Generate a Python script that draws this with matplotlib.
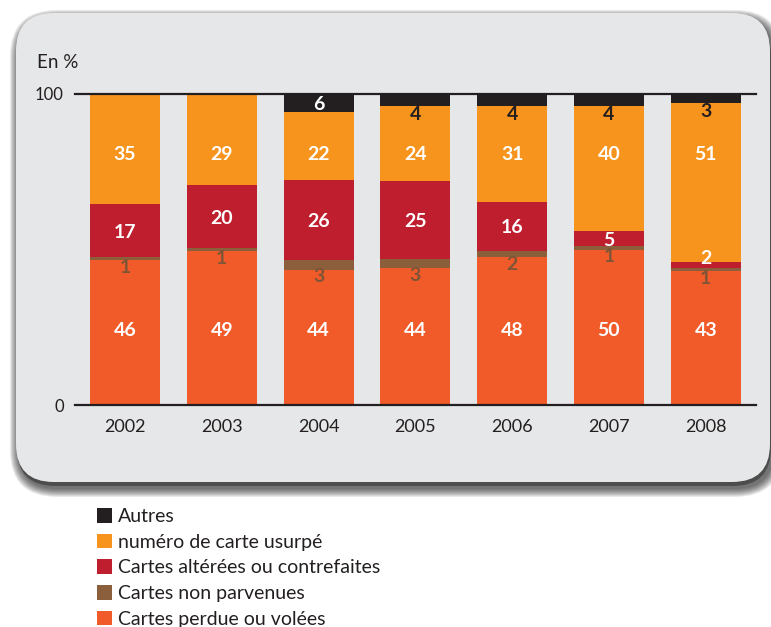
import matplotlib
matplotlib.use("Agg")
import matplotlib.pyplot as plt
from matplotlib.patches import FancyBboxPatch, Patch
import numpy as np

years = ['2002', '2003', '2004', '2005', '2006', '2007', '2008']
perdue = [46, 49, 44, 44, 48, 50, 43]
non_parvenues = [1, 1, 3, 3, 2, 1, 1]
alterees = [17, 20, 26, 25, 16, 5, 2]
usurpe = [35, 29, 22, 24, 31, 40, 51]
autres = [0, 0, 6, 4, 4, 4, 3]

series_names = ['Cartes perdue ou volées', 'Cartes non parvenues',
                'Cartes altérées ou contrefaites', 'numéro de carte usurpé', 'Autres']
colors = ['#F15A29', '#8B5E3C', '#BE1E2D', '#F7941D', '#231F20']

plt.rcParams['font.family'] = ['Lato', 'DejaVu Sans']

W, H = 771, 627
fig = plt.figure(figsize=(W / 100, H / 100), dpi=100)
fig.patch.set_facecolor('white')

def inch(x, y):
    return x / 100, (H - y) / 100

# background rounded box with soft shadow
bx0, bx1, by0, by1 = 16, 770, 13, 482
rad = 0.38
for i in range(9, 0, -1):
    x0, y0 = inch(bx0 - i + 3, by1 + i + 6)
    sh = FancyBboxPatch((x0, y0), (bx1 - bx0 + 2 * i) / 100, (by1 - by0 + 2 * i) / 100,
                        boxstyle=f"round,pad=0,rounding_size={rad + i / 100}",
                        transform=fig.dpi_scale_trans, fc='#111111', ec='none',
                        alpha=0.09, zorder=-3)
    fig.add_artist(sh)
x0, y0 = inch(bx0 + 1, by1 + 4)
sh = FancyBboxPatch((x0, y0), (bx1 - bx0) / 100, (by1 - by0) / 100,
                    boxstyle=f"round,pad=0,rounding_size={rad}",
                    transform=fig.dpi_scale_trans, fc='#333333', ec='none',
                    alpha=0.6, zorder=-3)
fig.add_artist(sh)
x0, y0 = inch(bx0, by1)
box = FancyBboxPatch((x0, y0), (bx1 - bx0) / 100, (by1 - by0) / 100,
                     boxstyle=f"round,pad=0,rounding_size={rad}",
                     transform=fig.dpi_scale_trans, fc='#E6E7E8', ec='none', zorder=-2)
fig.add_artist(box)

# axes
ax = fig.add_axes([75 / W, 1 - 405 / H, (756 - 75) / W, (405 - 94) / H])
ax.patch.set_visible(False)
for s in ax.spines.values():
    s.set_visible(False)

data = np.array([perdue, non_parvenues, alterees, usurpe, autres], dtype=float)
totals = data.sum(axis=0)
heights = data / totals * 100.0
x = np.arange(len(years))
bw = 0.723
fs = 14
bottom = np.zeros(len(years))
for k in range(len(series_names)):
    ax.bar(x, heights[k], bw, bottom=bottom, color=colors[k], label=series_names[k],
           zorder=2, linewidth=0)
    for j in range(len(years)):
        v = data[k, j]
        if v == 0:
            continue
        b = bottom[j]
        h = heights[k, j]
        lab = str(int(v))
        if k == 0:
            ax.text(x[j], 24, lab, ha='center', va='center', color='white',
                    fontsize=fs, fontweight='bold', zorder=4)
        elif k == 1:
            ax.text(x[j], b - 2.4, lab, ha='center', va='center', color='#7D5536',
                    fontsize=fs, fontweight='bold', zorder=4)
        elif k == 2:
            yy = b + h / 2 - 0.5 if v >= 4 else b + h + 1.0
            ax.text(x[j], yy, lab, ha='center', va='center', color='white',
                    fontsize=fs, fontweight='bold', zorder=4)
        elif k == 3:
            ax.text(x[j], 80.5, lab, ha='center', va='center', color='white',
                    fontsize=fs, fontweight='bold', zorder=4)
        else:
            if v >= 5:
                ax.text(x[j], b + h / 2 - 0.3, lab, ha='center', va='center', color='white',
                        fontsize=fs, fontweight='bold', zorder=4)
            else:
                ax.text(x[j], b - 2.7, lab, ha='center', va='center', color='#231F20',
                        fontsize=fs, fontweight='bold', zorder=4)
    bottom += heights[k]

ax.set_xlim(-0.517, 6.52)
ax.set_ylim(0, 100)
ax.axhline(0, color='#231F20', lw=1.6, zorder=3, clip_on=False)
ax.axhline(100, color='#231F20', lw=1.6, zorder=3, clip_on=False)

ax.set_xticks(x)
ax.set_xticklabels(years, fontsize=13, color='#231F20')
ax.set_yticks([0, 100])
ax.set_yticklabels(['0', '100'], fontsize=12, color='#231F20')
ax.tick_params(axis='both', length=0)
ax.tick_params(axis='x', pad=10)
ax.tick_params(axis='y', pad=8)

fig.text(37 / W, 1 - 63 / H, 'En %', fontsize=13.5, color='#231F20', ha='left', va='center')

# legend
handles = [Patch(facecolor=colors[k], edgecolor='none') for k in range(4, -1, -1)]
labels = [series_names[k] for k in range(4, -1, -1)]
fig.legend(handles, labels, loc='upper left', bbox_to_anchor=(97 / W, 1 - 508 / H),
           frameon=False, fontsize=14, handlelength=0.78, handleheight=0.78,
           handletextpad=0.28, labelspacing=0.44, borderpad=0, borderaxespad=0,
           labelcolor='#231F20')

fig.savefig('out.png', dpi=100, facecolor='white')
